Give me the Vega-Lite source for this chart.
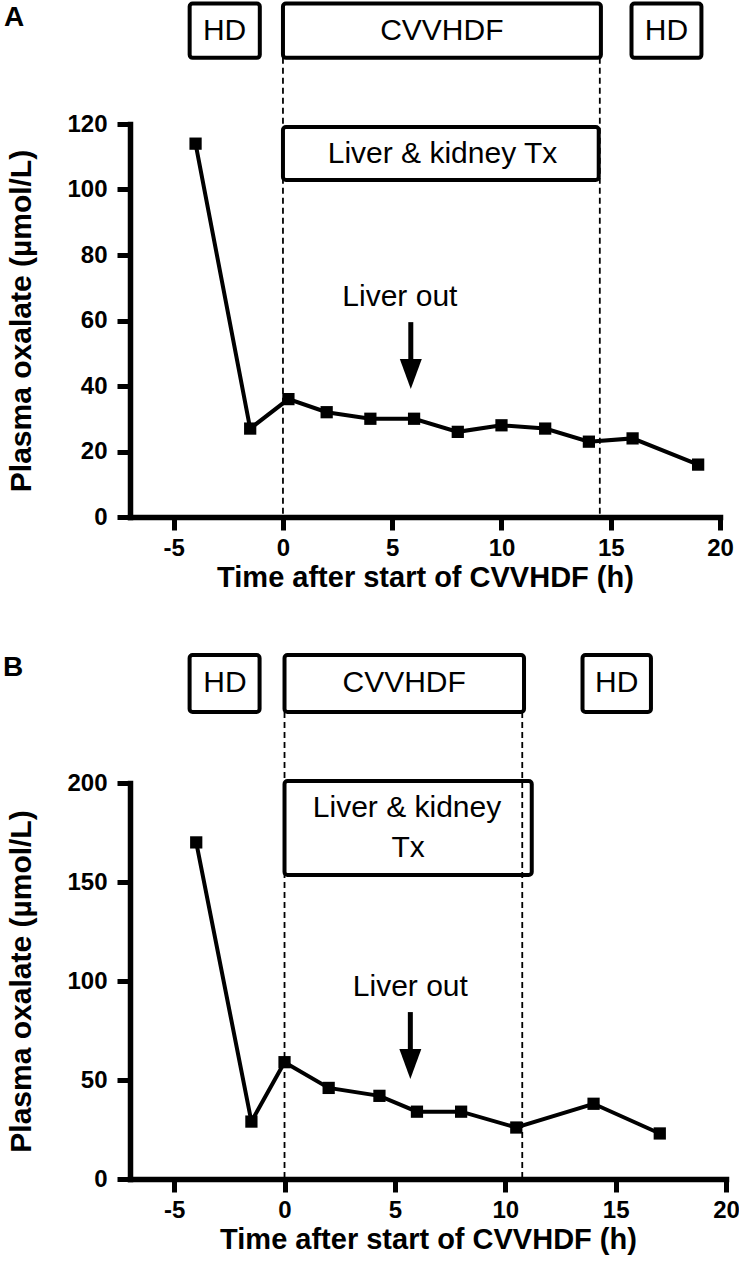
{
  "$schema": "https://vega.github.io/schema/vega-lite/v6.json",
  "padding": {"left": 2, "top": 1, "right": 2, "bottom": 2},
  "background": "white",
  "config": {
    "view": {"stroke": null},
    "font": "Liberation Sans",
    "axis": {
      "grid": false, "domainColor": "black", "domainWidth": 5.5, "domainCap": "square",
      "tickColor": "black", "tickWidth": 5, "tickSize": 13, "labelFlush": false,
      "labelFont": "Liberation Sans", "labelFontWeight": "bold", "labelFontSize": 24, "labelColor": "black", "labelPadding": 10,
      "titleFont": "Liberation Sans", "titleFontWeight": "bold", "titleFontSize": 29, "titleColor": "black"
    },
    "axisX": {"titlePadding": 3, "labelPadding": 6},
    "axisY": {"titlePadding": 30, "titleFontSize": 30},
    "concat": {"spacing": 61}
  },
  "datasets": {
    "a_points": [
      {"t": -4, "ox": 114}, {"t": -1.5, "ox": 27}, {"t": 0.25, "ox": 36}, {"t": 2, "ox": 32},
      {"t": 4, "ox": 30}, {"t": 6, "ox": 30}, {"t": 8, "ox": 26}, {"t": 10, "ox": 28},
      {"t": 12, "ox": 27}, {"t": 14, "ox": 23}, {"t": 16, "ox": 24}, {"t": 19, "ox": 16}
    ],
    "a_boxes": [
      {"x": -4.27, "x2": -1.06, "y": 156.8, "y2": 140.2},
      {"x": 0, "x2": 14.55, "y": 156.8, "y2": 140.2},
      {"x": 15.95, "x2": 19.15, "y": 156.8, "y2": 140.2},
      {"x": 0, "x2": 14.45, "y": 119.1, "y2": 102.9}
    ],
    "a_labels": [
      {"x": -2.67, "y": 148.5, "label": "HD"},
      {"x": 7.27, "y": 148.5, "label": "CVVHDF"},
      {"x": 17.55, "y": 148.5, "label": "HD"},
      {"x": 7.3, "y": 110.8, "label": "Liver & kidney Tx"},
      {"x": 5.35, "y": 67.2, "label": "Liver out"}
    ],
    "a_dashes": [{"x": 0, "y": 140.2, "y2": 0}, {"x": 14.5, "y": 140.2, "y2": 0}],
    "a_arrow": [{"x": 5.85, "y": 59.5, "y2": 46, "tip": 39.1}],
    "a_tag": [{"x": -12.3, "y": 152.4, "label": "A"}],
    "b_points": [
      {"t": -4, "ox": 170}, {"t": -1.5, "ox": 29}, {"t": 0, "ox": 59}, {"t": 2, "ox": 46},
      {"t": 4.3, "ox": 42}, {"t": 6, "ox": 34}, {"t": 8, "ox": 34}, {"t": 10.5, "ox": 26},
      {"t": 14, "ox": 38}, {"t": 17, "ox": 23}
    ],
    "b_boxes": [
      {"x": -4.3, "x2": -1.13, "y": 264.6, "y2": 235.9},
      {"x": 0, "x2": 10.85, "y": 264.6, "y2": 235.9},
      {"x": 13.5, "x2": 16.6, "y": 264.6, "y2": 235.9},
      {"x": 0, "x2": 11.2, "y": 201, "y2": 153.5}
    ],
    "b_labels": [
      {"x": -2.7, "y": 250.3, "label": "HD"},
      {"x": 5.42, "y": 250.3, "label": "CVVHDF"},
      {"x": 15.05, "y": 250.3, "label": "HD"},
      {"x": 5.55, "y": 187.4, "label": "Liver & kidney"},
      {"x": 5.6, "y": 167.4, "label": "Tx"},
      {"x": 5.7, "y": 97, "label": "Liver out"}
    ],
    "b_dashes": [{"x": 0, "y": 235.9, "y2": 0}, {"x": 10.77, "y": 235.9, "y2": 0}],
    "b_arrow": [{"x": 5.7, "y": 84.3, "y2": 63, "tip": 50.5}],
    "b_tag": [{"x": -12.3, "y": 258, "label": "B"}]
  },
  "vconcat": [
    {
      "width": 590,
      "height": 393,
      "layer": [
        {
          "data": {"name": "a_points"},
          "mark": {"type": "line", "color": "black", "strokeWidth": 4},
          "encoding": {
            "x": {"field": "t", "type": "quantitative", "scale": {"domain": [-7, 20], "nice": false, "zero": false},
                  "axis": {"values": [-5, 0, 5, 10, 15, 20], "labelExpr": "'' + datum.value", "title": "Time after start of CVVHDF (h)", "domainWidth": 5.5, "tickWidth": 5, "labelFlush": false}},
            "y": {"field": "ox", "type": "quantitative", "scale": {"domain": [0, 120], "nice": false},
                  "axis": {"values": [0, 20, 40, 60, 80, 100, 120], "title": "Plasma oxalate (µmol/L)", "domainWidth": 5.5, "tickWidth": 5, "labelFlush": false}}
          }
        },
        {
          "data": {"name": "a_points"},
          "mark": {"type": "point", "shape": "square", "filled": true, "color": "black", "size": 150, "opacity": 1},
          "encoding": {"x": {"field": "t", "type": "quantitative"}, "y": {"field": "ox", "type": "quantitative"}}
        },
        {
          "data": {"name": "a_dashes"},
          "mark": {"type": "rule", "color": "black", "strokeWidth": 1.8, "strokeDash": [6, 4]},
          "encoding": {"x": {"field": "x", "type": "quantitative"}, "y": {"field": "y", "type": "quantitative"}, "y2": {"field": "y2"}}
        },
        {
          "data": {"name": "a_boxes"},
          "mark": {"type": "rect", "fill": "transparent", "stroke": "black", "strokeWidth": 4, "cornerRadius": 3},
          "encoding": {"x": {"field": "x", "type": "quantitative"}, "x2": {"field": "x2"}, "y": {"field": "y", "type": "quantitative"}, "y2": {"field": "y2"}}
        },
        {
          "data": {"name": "a_labels"},
          "mark": {"type": "text", "font": "Liberation Sans", "fontSize": 30, "color": "black", "align": "center", "baseline": "middle"},
          "encoding": {"x": {"field": "x", "type": "quantitative"}, "y": {"field": "y", "type": "quantitative"}, "text": {"field": "label"}}
        },
        {
          "data": {"name": "a_arrow"},
          "mark": {"type": "rule", "color": "black", "strokeWidth": 5},
          "encoding": {"x": {"field": "x", "type": "quantitative"}, "y": {"field": "y", "type": "quantitative"}, "y2": {"field": "y2"}}
        },
        {
          "data": {"name": "a_arrow"},
          "mark": {"type": "point", "shape": "M-0.733,-2L0.733,-2L0,0Z", "size": 900, "filled": true, "color": "black", "opacity": 1},
          "encoding": {"x": {"field": "x", "type": "quantitative"}, "y": {"field": "tip", "type": "quantitative"}}
        },
        {
          "data": {"name": "a_tag"},
          "mark": {"type": "text", "font": "Liberation Sans", "fontSize": 28, "fontWeight": "bold", "color": "black", "align": "center", "baseline": "middle"},
          "encoding": {"x": {"field": "x", "type": "quantitative"}, "y": {"field": "y", "type": "quantitative"}, "text": {"field": "label"}}
        }
      ]
    },
    {
      "width": 596,
      "height": 396,
      "layer": [
        {
          "data": {"name": "b_points"},
          "mark": {"type": "line", "color": "black", "strokeWidth": 4},
          "encoding": {
            "x": {"field": "t", "type": "quantitative", "scale": {"domain": [-7, 20], "nice": false, "zero": false},
                  "axis": {"values": [-5, 0, 5, 10, 15, 20], "labelExpr": "'' + datum.value", "title": "Time after start of CVVHDF (h)", "domainWidth": 5.5, "tickWidth": 5, "labelFlush": false}},
            "y": {"field": "ox", "type": "quantitative", "scale": {"domain": [0, 200], "nice": false},
                  "axis": {"values": [0, 50, 100, 150, 200], "title": "Plasma oxalate (µmol/L)", "domainWidth": 5.5, "tickWidth": 5, "labelFlush": false}}
          }
        },
        {
          "data": {"name": "b_points"},
          "mark": {"type": "point", "shape": "square", "filled": true, "color": "black", "size": 150, "opacity": 1},
          "encoding": {"x": {"field": "t", "type": "quantitative"}, "y": {"field": "ox", "type": "quantitative"}}
        },
        {
          "data": {"name": "b_dashes"},
          "mark": {"type": "rule", "color": "black", "strokeWidth": 1.8, "strokeDash": [6, 4]},
          "encoding": {"x": {"field": "x", "type": "quantitative"}, "y": {"field": "y", "type": "quantitative"}, "y2": {"field": "y2"}}
        },
        {
          "data": {"name": "b_boxes"},
          "mark": {"type": "rect", "fill": "transparent", "stroke": "black", "strokeWidth": 4, "cornerRadius": 3},
          "encoding": {"x": {"field": "x", "type": "quantitative"}, "x2": {"field": "x2"}, "y": {"field": "y", "type": "quantitative"}, "y2": {"field": "y2"}}
        },
        {
          "data": {"name": "b_labels"},
          "mark": {"type": "text", "font": "Liberation Sans", "fontSize": 30, "color": "black", "align": "center", "baseline": "middle"},
          "encoding": {"x": {"field": "x", "type": "quantitative"}, "y": {"field": "y", "type": "quantitative"}, "text": {"field": "label"}}
        },
        {
          "data": {"name": "b_arrow"},
          "mark": {"type": "rule", "color": "black", "strokeWidth": 5},
          "encoding": {"x": {"field": "x", "type": "quantitative"}, "y": {"field": "y", "type": "quantitative"}, "y2": {"field": "y2"}}
        },
        {
          "data": {"name": "b_arrow"},
          "mark": {"type": "point", "shape": "M-0.733,-2L0.733,-2L0,0Z", "size": 900, "filled": true, "color": "black", "opacity": 1},
          "encoding": {"x": {"field": "x", "type": "quantitative"}, "y": {"field": "tip", "type": "quantitative"}}
        },
        {
          "data": {"name": "b_tag"},
          "mark": {"type": "text", "font": "Liberation Sans", "fontSize": 28, "fontWeight": "bold", "color": "black", "align": "center", "baseline": "middle"},
          "encoding": {"x": {"field": "x", "type": "quantitative"}, "y": {"field": "y", "type": "quantitative"}, "text": {"field": "label"}}
        }
      ]
    }
  ]
}
